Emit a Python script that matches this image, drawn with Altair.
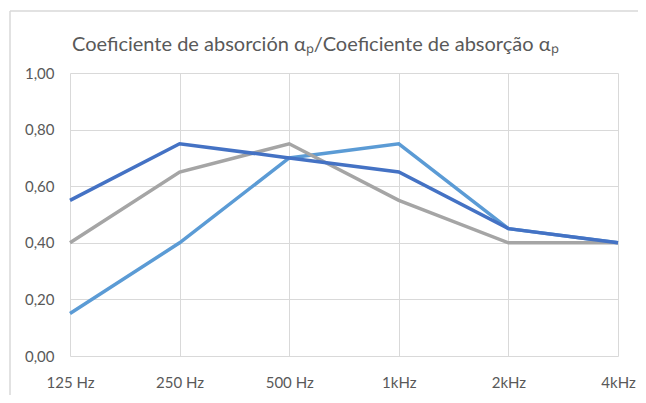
import altair as alt
import pandas as pd

freqs = ["125 Hz", "250 Hz", "500 Hz", "1kHz", "2kHz", "4kHz"]
series_names = ["Serie 3", "Serie 2", "Serie 1"]
light_blue = [0.15, 0.40, 0.70, 0.75, 0.45, 0.40]
gray = [0.40, 0.65, 0.75, 0.55, 0.40, 0.40]
dark_blue = [0.55, 0.75, 0.70, 0.65, 0.45, 0.40]
colors = ["#5B9BD5", "#A5A5A5", "#4472C4"]
y_ticks = [0.0, 0.2, 0.4, 0.6, 0.8, 1.0]
title_text = "Coeficiente de absorción αₚ/Coeficiente de absorção αₚ"

rows = []
for k, (name, vals) in enumerate(zip(series_names, [light_blue, gray, dark_blue])):
    for f, v in zip(freqs, vals):
        rows.append({"freq": f, "value": v, "series": name, "order": k})
df = pd.DataFrame(rows)

W, H = 548, 283
FONT = "Lato"
TXT = "#595959"

x_enc = alt.X("freq:N", sort=freqs, scale=alt.Scale(type="point", padding=0),
              axis=alt.Axis(title=None, grid=True, gridColor="#d9d9d9", gridWidth=1,
                            domain=False, ticks=False, labelAngle=0, labelPadding=19,
                            labelFont=FONT, labelFontSize=15, labelColor=TXT))
y_enc = alt.Y("value:Q", scale=alt.Scale(domain=[0, 1], nice=False),
              axis=alt.Axis(title=None, values=y_ticks, grid=True, gridColor="#d9d9d9",
                            gridWidth=1, domain=False, ticks=False, labelPadding=16,
                            labelExpr="replace(format(datum.value, '.2f'), '.', ',')",
                            labelFont=FONT, labelFontSize=15, labelColor=TXT))

lines = alt.Chart(df).mark_line(strokeWidth=3.5, strokeJoin="miter").encode(
    x=x_enc, y=y_enc,
    color=alt.Color("series:N", scale=alt.Scale(domain=series_names, range=colors), legend=None),
    order=alt.Order("order:Q"),
    detail="series:N",
)

frame_top = alt.Chart(pd.DataFrame({"a": [0]})).mark_rule(color="#d9d9d9", strokeWidth=1.5).encode(
    x=alt.value(-60), x2=alt.value(W + 20), y=alt.value(-62))
frame_left = alt.Chart(pd.DataFrame({"a": [0]})).mark_rule(color="#d9d9d9", strokeWidth=1.5).encode(
    x=alt.value(-60), y=alt.value(-62), y2=alt.value(H + 39))

title = alt.Chart(pd.DataFrame({"t": [title_text]})).mark_text(
    font=FONT, fontSize=20, color=TXT, align="left", baseline="alphabetic").encode(
    x=alt.value(2), y=alt.value(-22), text="t:N")

chart = alt.layer(frame_top, frame_left, lines, title).properties(
    width=W, height=H,
    autosize=alt.AutoSizeParams(type="none"),
    padding={"left": 62, "top": 65, "right": 20, "bottom": 39},
).configure_view(stroke=None)

chart.save("out.html", embed_options={"renderer": "svg", "actions": False})
